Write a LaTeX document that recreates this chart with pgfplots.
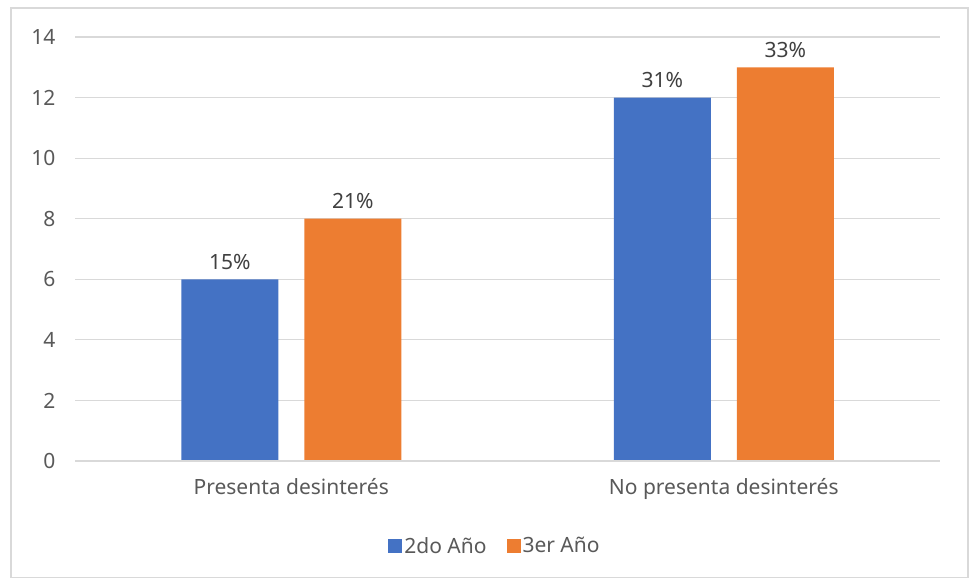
\documentclass[border=0pt]{standalone}
\usepackage{fontspec}
\setmainfont{Noto Sans}
\usepackage{pgfplots}
\pgfplotsset{compat=1.18}
\definecolor{blueB}{HTML}{4472C4}
\definecolor{orangeB}{HTML}{ED7D31}
\definecolor{gridc}{HTML}{D9D9D9}
\definecolor{tickc}{HTML}{595959}
\definecolor{labc}{HTML}{404040}
\begin{document}
\begin{tikzpicture}[x=1pt,y=1pt,font=\fontsize{21}{25}\selectfont]
\path[use as bounding box] (0,0) rectangle (973,582);
\draw[gridc, line width=1.5pt] (11,4.5) rectangle (968,574);
\begin{axis}[
  at={(75pt,121pt)}, anchor=south west,
  scale only axis, width=865pt, height=424pt,
  xmin=-0.5, xmax=1.5, ymin=0, ymax=14,
  ytick={0,2,...,14},
  xtick={0,1},
  xticklabels={Presenta desinterés, No presenta desinterés},
  ybar=26pt, bar width=97pt,
  axis line style={draw=none},
  major tick length=0pt,
  ymajorgrids, grid style={gridc, line width=1.1pt},
  /pgf/number format/assume math mode=true,
  tick label style={font=\fontsize{21}{25}\selectfont, text=tickc},
  yticklabel style={xshift=-16pt},
  xticklabel style={yshift=-14pt},
  extra description/.code={\draw[gridc, line width=1.1pt] (axis cs:-0.5,0) -- (axis cs:1.5,0);},
  nodes near coords, point meta=explicit symbolic,
  every node near coord/.append style={font=\fontsize{21}{25}\selectfont, text=labc, yshift=6pt},
  legend columns=2,
  legend style={at={(0.4855,-0.2)}, anchor=center, draw=none, fill=none,
    font=\fontsize{21}{25}\selectfont, text=tickc,
    /tikz/every even column/.append style={column sep=18pt},
    /tikz/every odd column/.append style={inner xsep=3pt}},
  legend image code/.code={\fill[#1] (0pt,-7pt) rectangle (14pt,7pt);},
]
\addplot[fill=blueB, draw=none] coordinates {(0,6) [15\%] (1,12) [31\%]};
\addplot[fill=orangeB, draw=none] coordinates {(0,8) [21\%] (1,13) [33\%]};
\legend{2do Año, 3er Año}
\end{axis}
\end{tikzpicture}
\end{document}
